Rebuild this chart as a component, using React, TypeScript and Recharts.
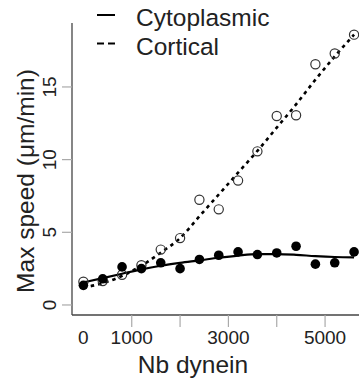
import { ComposedChart, Line, Scatter, XAxis, YAxis } from "recharts";

// Nb dynein (x) and max speed (µm/min)
const dynein = [0, 400, 800, 1200, 1600, 2000, 2400, 2800, 3200, 3600, 4000, 4400, 4800, 5200, 5600];
const cytoplasmic = [1.35, 1.8, 2.62, 2.5, 2.9, 2.5, 3.13, 3.42, 3.65, 3.47, 3.58, 4.04, 2.81, 2.9, 3.65];
const cortical = [1.6, 1.65, 2.08, 2.74, 3.81, 4.6, 7.24, 6.58, 8.56, 10.57, 13.0, 13.05, 16.56, 17.3, 18.6];
const cytoplasmicFit = [1.55, 1.85, 2.15, 2.45, 2.7, 2.9, 3.07, 3.25, 3.4, 3.5, 3.5, 3.45, 3.36, 3.3, 3.28];
const corticalFit = [1.2, 1.5, 2.0, 2.7, 3.6, 4.6, 6.1, 7.6, 9.1, 10.6, 12.2, 13.8, 15.5, 17.1, 18.6];

const xTicks = [0, 1000, 2000, 3000, 4000, 5000];
const xLabels = [0, 1000, 3000, 5000];
const yTicks = [0, 5, 10, 15];

const data = dynein.map((x, i) => ({
  x,
  cyto: cytoplasmic[i],
  cort: cortical[i],
  cytoFit: cytoplasmicFit[i],
  cortFit: corticalFit[i],
}));

const font = '"Liberation Sans", Arial, sans-serif';

const XTick = ({ x, y, payload }: any) => (
  <g>
    {payload.value !== 0 && <line x1={x} x2={x} y1={y - 12} y2={y} stroke="#aaa" strokeWidth={1.2} />}
    {xLabels.includes(payload.value) && (
      <text x={x} y={y + 17} textAnchor="middle" fontSize={19} fill="#222" fontFamily={font}>
        {payload.value}
      </text>
    )}
  </g>
);

const YTick = ({ x, y, payload }: any) => (
  <g>
    <line x1={x} x2={x + 10} y1={y} y2={y} stroke="#aaa" strokeWidth={1.2} />
    <text
      x={x - 12}
      y={y}
      textAnchor="middle"
      dominantBaseline="central"
      fontSize={19}
      fill="#222"
      fontFamily={font}
      transform={`rotate(-90 ${x - 12} ${y})`}
    >
      {payload.value}
    </text>
  </g>
);

const OpenDot = (props: any) => (
  <circle cx={props.cx} cy={props.cy} r={4.6} fill="none" stroke="#333" strokeWidth={1.2} />
);
const FilledDot = (props: any) => <circle cx={props.cx} cy={props.cy} r={4.8} fill="#000" />;

export default function App() {
  return (
    <div style={{ position: "fixed", left: 0, top: 0, width: 359, height: 379, background: "#fff" }}>
      <ComposedChart width={359} height={379} data={data} margin={{ top: 23, right: 0, bottom: 0, left: 0 }}>
        <XAxis
          dataKey="x"
          type="number"
          domain={[-236, 5702]}
          allowDataOverflow
          ticks={xTicks}
          tick={<XTick />}
          tickLine={false}
          tickSize={12}
          tickMargin={0}
          height={64}
          stroke="#444"
          strokeWidth={1.3}
        />
        <YAxis
          type="number"
          domain={[-0.69, 19.4]}
          allowDataOverflow
          ticks={yTicks}
          tick={<YTick />}
          tickLine={false}
          tickSize={10}
          tickMargin={0}
          width={72}
          stroke="#444"
          strokeWidth={1.3}
        />
        <Line dataKey="cytoFit" type="monotone" stroke="#000" strokeWidth={2.2} dot={false} isAnimationActive={false} />
        <Line
          dataKey="cortFit"
          type="monotone"
          stroke="#000"
          strokeWidth={2.6}
          strokeDasharray="3.5 4"
          dot={false}
          isAnimationActive={false}
        />
        <Scatter dataKey="cort" shape={<OpenDot />} isAnimationActive={false} />
        <Scatter dataKey="cyto" shape={<FilledDot />} isAnimationActive={false} />
      </ComposedChart>

      <svg width={359} height={379} style={{ position: "absolute", left: 0, top: 0, pointerEvents: "none" }}>
        <line x1={97} x2={115} y1={15} y2={15} stroke="#000" strokeWidth={2} />
        <text x={136} y={26} fontSize={24.5} fill="#222" fontFamily={font}>Cytoplasmic</text>
        <line x1={97} x2={115} y1={43.5} y2={43.5} stroke="#000" strokeWidth={2} strokeDasharray="7 4" />
        <text x={136} y={55} fontSize={24.5} fill="#222" fontFamily={font}>Cortical</text>
        <text x={193} y={373} textAnchor="middle" fontSize={24.5} fill="#222" fontFamily={font}>Nb dynein</text>
        <text
          x={25}
          y={181}
          textAnchor="middle"
          dominantBaseline="central"
          fontSize={24.5}
          fill="#222"
          fontFamily={font}
          transform="rotate(-90 25 181)"
        >
          Max speed (μm/min)
        </text>
      </svg>
    </div>
  );
}
